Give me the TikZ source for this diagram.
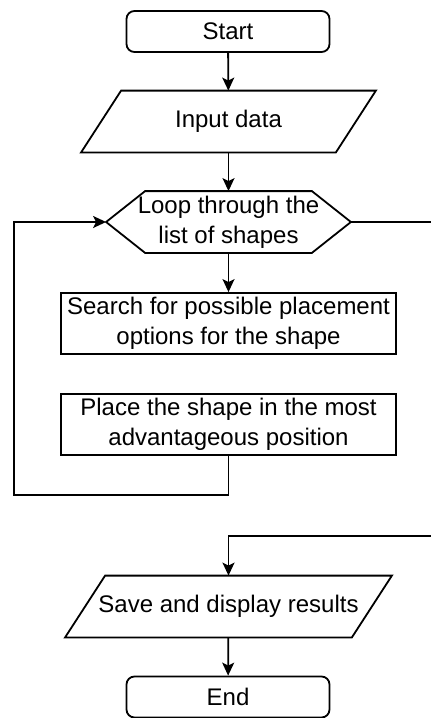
\documentclass[tikz,border=0pt]{standalone}
\usepackage{fontspec}
\setmainfont{Liberation Sans}
\usetikzlibrary{arrows.meta}

\begin{document}
\begin{tikzpicture}[x=0.5pt, y=-0.5pt, >={Stealth[length=6.5pt,width=6pt,inset=1.5pt]}, line width=0.9pt,
    every node/.style={font=\fontsize{12}{15}\selectfont, align=center, inner sep=0pt},
    term/.style={draw, rounded corners=4pt, minimum width=101.5pt, minimum height=20.5pt},
    proc/.style={draw, minimum width=167.5pt, minimum height=30.5pt},
    io/.style={minimum height=30pt},
    hexbox/.style={minimum width=121.5pt, minimum height=30pt}]

\useasboundingbox (0,0) rectangle (431,718);

% ---- Terminals ----
            \node[term] (start) at (228,31.5) {Start};
            \node[term] (end) at (228,697) {End};

% ---- Input / output (parallelograms) ----
            \node[io, minimum width=146.5pt] (input) at (228.5,121.5) {Input data};
            \draw ([xshift=20pt]input.north west) -- (input.north east)
                -- ([xshift=-20pt]input.south east) -- (input.south west) -- cycle;

            \node[io, minimum width=162.5pt] (save) at (228.5,606.5) {Save and display results};
            \draw ([xshift=20pt]save.north west) -- (save.north east)
                -- ([xshift=-20pt]save.south east) -- (save.south west) -- cycle;

% ---- Loop (hexagon) ----
            \node[hexbox] (loop) at (228.5,222) {Loop through the\\list of shapes};
            \draw (loop.west) -- ([xshift=19.5pt]loop.north west) -- ([xshift=-19.5pt]loop.north east)
                -- (loop.east) -- ([xshift=-19.5pt]loop.south east) -- ([xshift=19.5pt]loop.south west) -- cycle;

% ---- Process boxes ----
            \node[proc] (search) at (228.5,323.5) {Search for possible placement\\options for the shape};
            \node[proc] (place) at (228.5,424.5) {Place the shape in the most\\advantageous position};

% ---- Straight arrows ----
            \foreach \a/\b in {start/input, input/loop, loop/search, save/end} {
                \draw[->] (\a) -- (\b);
            }

% ---- Back to the loop ----
            \coordinate (ret) at (14,495);
            \draw[->] (place.south) |- (ret) |- (loop.west);

% ---- Loop exit ----
            \coordinate (exitR) at (431,222);
            \draw (loop.east) -- (exitR);
            \coordinate (entryR) at (431,536);
            \draw[->] (entryR) -| (save.north);

\end{tikzpicture}
\end{document}
